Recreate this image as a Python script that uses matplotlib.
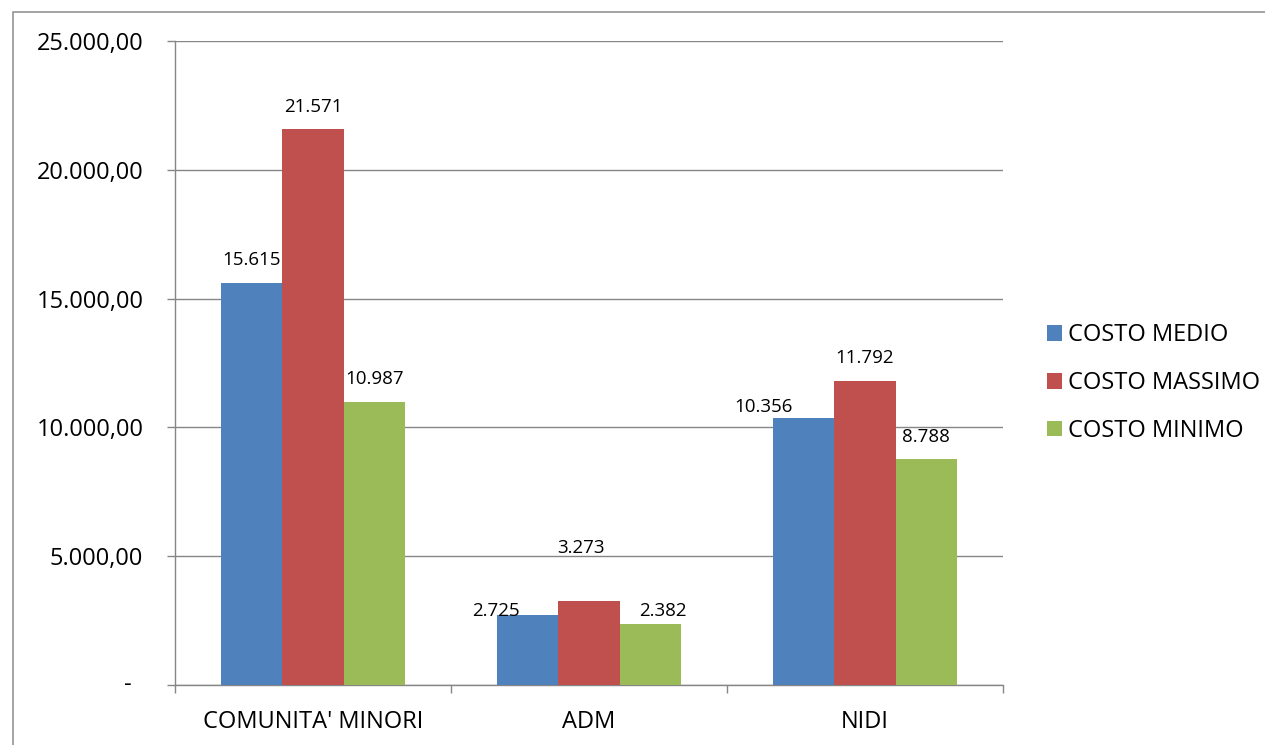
import matplotlib
matplotlib.use("Agg")
import matplotlib.pyplot as plt
from matplotlib.patches import Rectangle
import numpy as np

# ---- data ----
categories = ["COMUNITA' MINORI", "ADM", "NIDI"]
series_names = ["COSTO MEDIO", "COSTO MASSIMO", "COSTO MINIMO"]
costo_medio = [15615, 2725, 10356]
costo_massimo = [21571, 3273, 11792]
costo_minimo = [10987, 2382, 8788]
y_ticks = [0, 5000, 10000, 15000, 20000, 25000]

# ---- style ----
colors = ["#4F81BD", "#C0504D", "#9BBB59"]
grid_col = "#868686"
# data-label offsets in pixels (dx, dy above bar top), per series then category
label_dx = [[0, -32, -40], [0, -8, 0], [0, 13, 0]]
label_dy = [[18, -1, 6], [17, 48, 18], [18, 8, 17]]

plt.rcParams["font.family"] = ["Open Sans", "DejaVu Sans"]

W, H = 1265, 745
fig = plt.figure(figsize=(W / 100, H / 100), dpi=100)
ax = fig.add_axes([175 / W, 1 - 685 / H, (1003 - 175) / W, (685 - 41) / H])

# outer frame
fig.patches.append(Rectangle((13 / W, -0.1), 1.2, 1 - 12 / H + 0.1,
                             transform=fig.transFigure, fill=False,
                             edgecolor="#8C8C8C", linewidth=1.1))

x = np.arange(len(categories))
bw = 1 / 4.5
all_series = [costo_medio, costo_massimo, costo_minimo]
for i, (vals, name, c) in enumerate(zip(all_series, series_names, colors)):
    pos = x + (i - 1) * bw
    ax.bar(pos, vals, width=bw, color=c, label=name, zorder=3)
    for j, (p, v) in enumerate(zip(pos, vals)):
        ax.annotate(f"{v:,}".replace(",", "."), xy=(p, v),
                    xytext=(label_dx[i][j], label_dy[i][j]),
                    textcoords="offset pixels", ha="center", va="baseline",
                    fontsize=13.5, color="black", zorder=5)

ax.set_xlim(-0.5, len(categories) - 0.5)
ax.set_ylim(0, 25000)


def fmt(v):
    if v == 0:
        return ""
    s = f"{v:,.2f}"
    return s.replace(",", "X").replace(".", ",").replace("X", ".")


ax.set_yticks(y_ticks)
ax.set_yticklabels([fmt(v) for v in y_ticks])
ax.annotate("-", xy=(0, 0), xycoords=("axes fraction", "data"),
            xytext=(-43, 0), textcoords="offset pixels",
            ha="right", va="center", fontsize=17)
ax.tick_params(axis="y", length=5.8, width=1.0, color=grid_col,
               labelsize=17, pad=17)
ax.yaxis.grid(True, color=grid_col, linewidth=1.0, zorder=0)
ax.set_axisbelow(True)

ax.set_xticks(x)
ax.set_xticklabels(categories)
ax.set_xticks(np.arange(-0.5, len(categories), 1.0), minor=True)
ax.tick_params(axis="x", which="major", length=0, labelsize=17, pad=18)
ax.tick_params(axis="x", which="minor", length=5.8, width=1.0, color=grid_col)

for s in ["top", "right"]:
    ax.spines[s].set_visible(False)
for s in ["left", "bottom"]:
    ax.spines[s].set_color(grid_col)
    ax.spines[s].set_linewidth(1.0)

ax.legend(loc="center left", bbox_to_anchor=(1047 / W, 1 - 383 / H),
          bbox_transform=fig.transFigure, frameon=False, fontsize=17,
          handlelength=0.64, handleheight=0.64, handletextpad=0.25,
          labelspacing=1.01, borderpad=0, borderaxespad=0)

fig.savefig("out.png", dpi=100)
